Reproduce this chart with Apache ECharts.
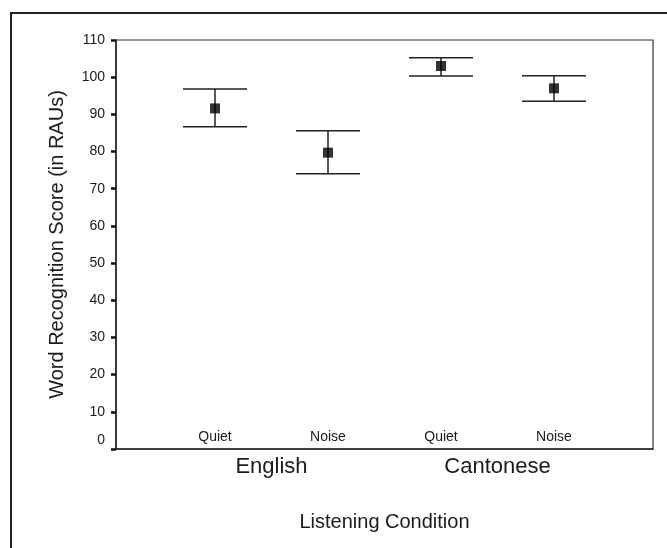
<!DOCTYPE html>
<html>
<head>
<meta charset="utf-8">
<script src="https://cdn.jsdelivr.net/npm/echarts@6/dist/echarts.min.js"></script>
<style>html,body{margin:0;padding:0;background:#fff;}#c{width:667px;height:548px;}</style>
</head>
<body>
<div id="c"></div>
<script>
var conditions = ['Quiet', 'Noise', 'Quiet', 'Noise'];
var languages = ['English', 'Cantonese'];
var means = [91.6, 79.7, 103.0, 97.0];
var upper = [96.8, 85.6, 105.2, 100.4];
var lower = [86.7, 74.0, 100.3, 93.5];
var yTicks = [0, 10, 20, 30, 40, 50, 60, 70, 80, 90, 100, 110];

var font = 'Liberation Sans, Arial, sans-serif';
var ink = '#1a1a1a';
var chart = echarts.init(document.getElementById('c'));

var errData = conditions.map(function (c, i) { return [i, lower[i], upper[i]]; });
var meanData = conditions.map(function (c, i) { return [i, means[i]]; });

chart.setOption({
  animation: false,
  backgroundColor: '#fff',
  graphic: [{
    type: 'rect', silent: true,
    shape: { x: 11, y: 13, width: 720, height: 620 },
    style: { fill: 'none', stroke: '#222', lineWidth: 2 }
  }],
  grid: [
    { left: 116, top: 40, width: 537, height: 409, show: true, borderColor: '#333', borderWidth: 1.2, backgroundColor: 'transparent' },
    { left: 158.5, top: 40, width: 452, height: 409 }
  ],
  xAxis: [
    { type: 'value', gridIndex: 0, min: 0, max: 1, axisLine: { show: true, lineStyle: { color: '#222', width: 1.5 } },
      axisTick: { show: false }, axisLabel: { show: false }, splitLine: { show: false } },
    { type: 'category', gridIndex: 1, data: conditions, boundaryGap: true,
      axisLine: { show: false }, axisTick: { show: false }, splitLine: { show: false },
      axisLabel: { inside: true, margin: 5, fontFamily: font, fontSize: 14, color: ink } },
    { type: 'category', gridIndex: 1, data: languages, boundaryGap: true, position: 'bottom',
      axisLine: { show: false }, axisTick: { show: false },
      axisLabel: { margin: 7, fontFamily: font, fontSize: 22, color: ink },
      name: 'Listening Condition', nameLocation: 'middle', nameGap: 63,
      nameTextStyle: { fontFamily: font, fontSize: 20, color: ink } }
  ],
  yAxis: [
    { type: 'value', gridIndex: 0, min: 0, max: 110, interval: 10,
      axisLine: { show: true, lineStyle: { color: '#222', width: 1.5 } },
      axisTick: { show: true, length: 5, lineStyle: { color: '#111', width: 2.5 } },
      splitLine: { show: false },
      axisLabel: { margin: 11, fontFamily: font, fontSize: 14, color: ink,
        formatter: function (v) { return v === 0 ? '{z|0}' : String(v); },
        rich: { z: { fontFamily: font, fontSize: 14, color: ink, padding: [0, 0, 18, 0] } } },
      name: 'Word Recognition Score (in RAUs)', nameLocation: 'middle', nameGap: 49,
      nameTextStyle: { fontFamily: font, fontSize: 20, color: ink } },
    { type: 'value', gridIndex: 1, min: 0, max: 110, show: false }
  ],
  series: [
    {
      type: 'custom', xAxisIndex: 1, yAxisIndex: 1, data: errData,
      renderItem: function (params, api) {
        var x = api.value(0);
        var lo = api.coord([x, api.value(1)]);
        var hi = api.coord([x, api.value(2)]);
        var hw = 32;
        var st = { stroke: '#222', lineWidth: 1.5 };
        return { type: 'group', children: [
          { type: 'line', shape: { x1: hi[0], y1: hi[1], x2: lo[0], y2: lo[1] }, style: st },
          { type: 'line', shape: { x1: hi[0] - hw, y1: hi[1], x2: hi[0] + hw, y2: hi[1] }, style: st },
          { type: 'line', shape: { x1: lo[0] - hw, y1: lo[1], x2: lo[0] + hw, y2: lo[1] }, style: st }
        ] };
      }
    },
    {
      type: 'scatter', xAxisIndex: 1, yAxisIndex: 1, data: meanData,
      symbol: 'rect', symbolSize: 10, itemStyle: { color: '#000' }, z: 5
    }
  ]
});
</script>
</body>
</html>
